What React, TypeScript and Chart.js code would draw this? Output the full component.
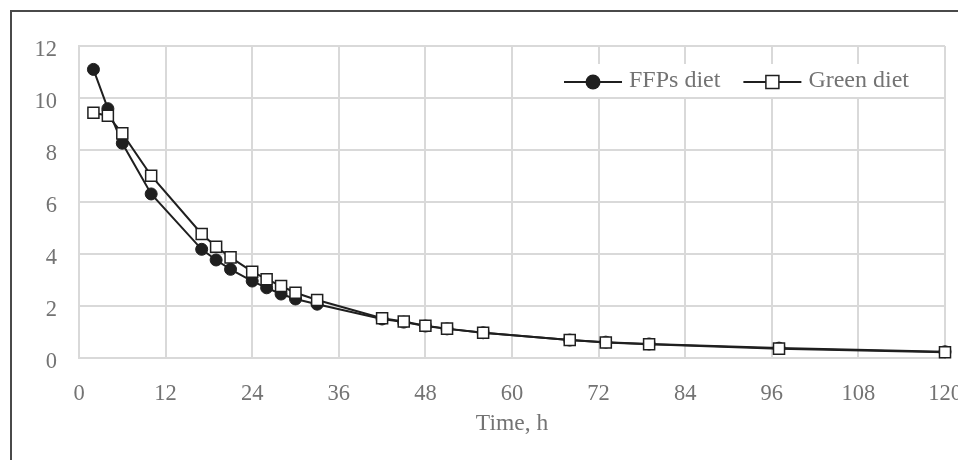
import React, { useEffect, useRef } from 'react';
import { Chart, registerables } from 'chart.js';

Chart.register(...registerables);

// ---- data ----
const timeHours = [2, 4, 6, 10, 17, 19, 21, 24, 26, 28, 30, 33, 42, 45, 48, 51, 56, 68, 73, 79, 97, 120];
const ffpsDiet = [11.1, 9.59, 8.26, 6.31, 4.18, 3.77, 3.41, 2.96, 2.7, 2.46, 2.27, 2.07, 1.5, 1.38, 1.23, 1.12, 0.97, 0.69, 0.61, 0.54, 0.38, 0.24];
const greenDiet = [9.43, 9.32, 8.64, 7.01, 4.77, 4.28, 3.87, 3.32, 3.03, 2.77, 2.51, 2.23, 1.53, 1.4, 1.24, 1.13, 0.97, 0.69, 0.6, 0.53, 0.36, 0.22];
const seriesLabels = ['FFPs diet', 'Green diet'];
const xAxisTitle = 'Time, h';
const xMin = 0;
const xMax = 120;
const xStep = 12;
const yMin = 0;
const yMax = 12;
const yStep = 2;

// ---- styles ----
const FONT = '"Liberation Serif", "Times New Roman", serif';
const TEXT = '#737373';
const GRID = '#d9d9d9';
const LINE = '#1f1f1f';

const framePlugin = {
  id: 'frame',
  beforeDraw(chart: any) {
    const ctx = chart.ctx;
    ctx.save();
    ctx.fillStyle = '#ffffff';
    ctx.fillRect(0, 0, chart.width, chart.height);
    ctx.strokeStyle = '#4a4a4a';
    ctx.lineWidth = 2;
    ctx.beginPath();
    ctx.moveTo(11, chart.height + 5);
    ctx.lineTo(11, 11);
    ctx.lineTo(chart.width + 5, 11);
    ctx.stroke();
    ctx.restore();
  },
};

const legendPlugin = {
  id: 'insideLegend',
  afterDraw(chart: any) {
    const { ctx, chartArea } = chart;
    ctx.save();
    ctx.font = `24px ${FONT}`;
    const y = chartArea.top + 36;
    const symW = 58;
    const gapText = 7;
    const gapItem = 23;
    const items = chart.data.datasets.map((ds: any) => ({ ds, w: ctx.measureText(ds.label).width }));
    const total =
      items.reduce((s: number, it: any) => s + symW + gapText + it.w, 0) + gapItem * (items.length - 1);
    let x = chartArea.right - 36 - total;
    ctx.fillStyle = '#ffffff';
    ctx.fillRect(x - 6, y - 18, total + 12, 33);
    items.forEach(({ ds, w }: any) => {
      ctx.strokeStyle = LINE;
      ctx.lineWidth = 2;
      ctx.beginPath();
      ctx.moveTo(x, y);
      ctx.lineTo(x + symW, y);
      ctx.stroke();
      const cx = x + symW / 2;
      if (ds.pointStyle === 'circle') {
        ctx.fillStyle = LINE;
        ctx.beginPath();
        ctx.arc(cx, y, 7.5, 0, Math.PI * 2);
        ctx.fill();
      } else {
        ctx.fillStyle = '#ffffff';
        ctx.strokeStyle = LINE;
        ctx.lineWidth = 1.5;
        ctx.fillRect(cx - 6.5, y - 6.5, 13, 13);
        ctx.strokeRect(cx - 6.5, y - 6.5, 13, 13);
      }
      ctx.fillStyle = TEXT;
      ctx.textBaseline = 'middle';
      ctx.textAlign = 'left';
      ctx.fillText(ds.label, x + symW + gapText, y - 1);
      x += symW + gapText + w + gapItem;
    });
    ctx.restore();
  },
};

export default function App() {
  const canvasRef = useRef<HTMLCanvasElement | null>(null);

  useEffect(() => {
    if (!canvasRef.current) return;
    const chart = new Chart(canvasRef.current, {
      type: 'line',
      data: {
        datasets: [
          {
            label: seriesLabels[0],
            data: timeHours.map((t, i) => ({ x: t, y: ffpsDiet[i] })),
            borderColor: LINE,
            borderWidth: 2,
            pointStyle: 'circle',
            pointRadius: 6,
            pointBackgroundColor: LINE,
            pointBorderColor: LINE,
            pointBorderWidth: 1,
            tension: 0,
            clip: false,
            order: 1,
          },
          {
            label: seriesLabels[1],
            data: timeHours.map((t, i) => ({ x: t, y: greenDiet[i] })),
            borderColor: LINE,
            borderWidth: 2,
            pointStyle: 'rect',
            pointRadius: 7.8,
            pointBackgroundColor: '#ffffff',
            pointBorderColor: LINE,
            pointBorderWidth: 1.5,
            tension: 0,
            clip: false,
            order: 0,
          },
        ] as any,
      },
      options: {
        animation: false,
        responsive: false,
        devicePixelRatio: 1,
        layout: { padding: { top: 46, right: 13, bottom: 0, left: 0 } },
        plugins: {
          legend: { display: false },
          tooltip: { enabled: false },
        },
        scales: {
          x: {
            type: 'linear',
            min: xMin,
            max: xMax,
            ticks: {
              stepSize: xStep,
              color: TEXT,
              font: { family: FONT, size: 22.5 },
              padding: 23,
              maxRotation: 0,
            },
            grid: { color: GRID, lineWidth: 2, drawTicks: false },
            border: { color: GRID, width: 2 },
            title: {
              display: true,
              text: xAxisTitle,
              color: TEXT,
              font: { family: FONT, size: 23.5 },
              padding: { top: 0, bottom: 22 },
            },
            afterFit: (s: any) => {
              s.height = 102;
              s.paddingLeft = 0;
              s.paddingRight = 0;
            },
          },
          y: {
            type: 'linear',
            min: yMin,
            max: yMax,
            ticks: {
              stepSize: yStep,
              color: TEXT,
              font: { family: FONT, size: 22.5 },
              padding: 22,
              labelOffset: 4,
            },
            grid: { color: GRID, lineWidth: 2, drawTicks: false },
            border: { color: GRID, width: 2 },
            afterFit: (s: any) => {
              s.width = 79;
              s.paddingTop = 0;
              s.paddingBottom = 0;
            },
          },
        },
      } as any,
      plugins: [framePlugin, legendPlugin],
    });
    return () => chart.destroy();
  }, []);

  return (
    <div style={{ position: 'fixed', left: 0, top: 0, width: 958, height: 460, background: '#fff' }}>
      <canvas ref={canvasRef} width={958} height={460} style={{ display: 'block', width: 958, height: 460 }} />
    </div>
  );
}
